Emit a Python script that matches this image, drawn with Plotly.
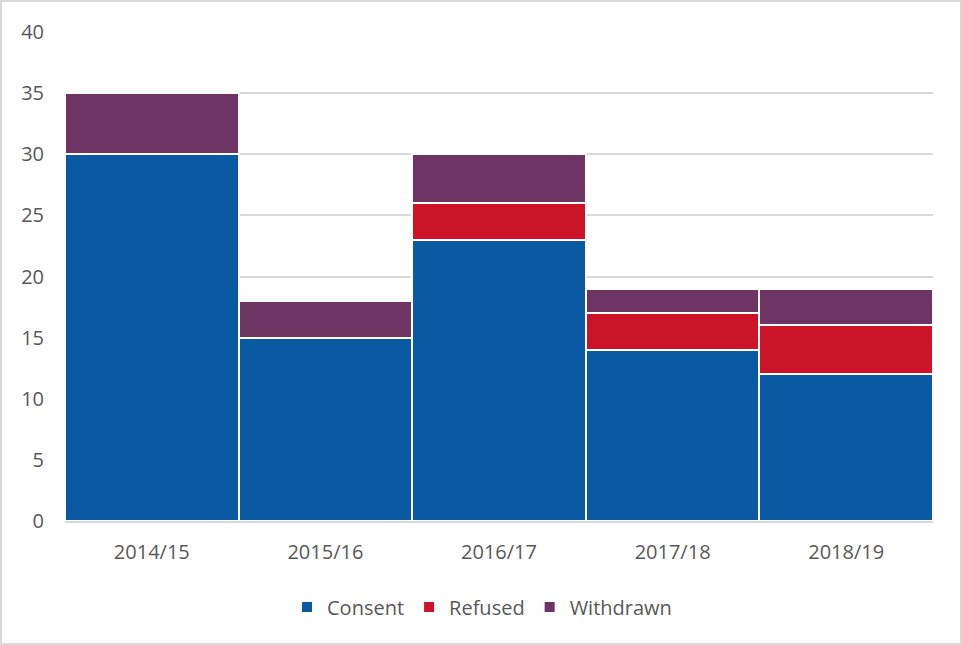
import plotly.graph_objects as go

years = ["2014/15", "2015/16", "2016/17", "2017/18", "2018/19"]
consent = [30, 15, 23, 14, 12]
refused = [0, 0, 3, 3, 4]
withdrawn = [5, 3, 4, 2, 3]

colors = {"Consent": "#095AA3", "Refused": "#CC1428", "Withdrawn": "#6E3464"}

fig = go.Figure()
for name, vals in [("Consent", consent), ("Refused", refused), ("Withdrawn", withdrawn)]:
    fig.add_trace(go.Bar(
        x=years, y=vals, name=name,
        marker=dict(color=colors[name], line=dict(color="white", width=2)),
    ))

W, H = 962, 645
ml, mr, mt, mb = 65, 29, 32, 124
pw, ph = W - ml - mr, H - mt - mb

fig.update_layout(
    width=W, height=H,
    barmode="stack", bargap=0,
    margin=dict(l=ml, r=mr, t=mt, b=mb),
    plot_bgcolor="white", paper_bgcolor="white",
    font=dict(family="Open Sans, Liberation Sans, sans-serif", size=20, color="#595959"),
    xaxis=dict(showgrid=False, ticks="", showline=True, linecolor="#D9D9D9", linewidth=2,
               tickfont=dict(size=20), ticklabelstandoff=12),
    yaxis=dict(range=[0, 40], dtick=5, showgrid=True, gridcolor="#D9D9D9", gridwidth=2,
               zeroline=False, ticks="", tickfont=dict(size=20), ticklabelstandoff=20),
    legend=dict(orientation="h", x=0.5 - 17 / pw, xanchor="center", y=-(607 - (mt + ph)) / ph,
                yanchor="middle", font=dict(size=20), traceorder="normal", itemwidth=30),
    shapes=[dict(type="rect", xref="paper", yref="paper",
                 x0=(1 - ml) / pw, x1=(961 - ml) / pw,
                 y0=(mt + ph - 644) / ph, y1=(mt + ph - 1) / ph,
                 line=dict(color="#D9D9D9", width=2), fillcolor="rgba(0,0,0,0)", layer="below")],
)

fig.write_html("out.html", config={"displayModeBar": False},
               post_script="document.body.style.margin='0';document.body.style.padding='0';")
